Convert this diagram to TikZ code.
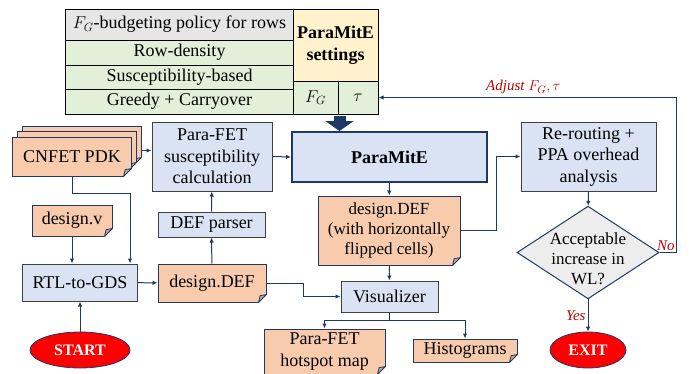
\documentclass[tikz,border=0pt]{standalone}
\usepackage{amsmath}
\usepackage{fontspec}
\setmainfont{Liberation Serif}
\usepackage{tikz}
\usetikzlibrary{calc,shapes.geometric,arrows.meta}

\definecolor{navy}{RGB}{32,56,100}
\definecolor{bluef}{RGB}{218,227,243}
\definecolor{orangef}{RGB}{248,203,173}
\definecolor{foldc}{RGB}{200,165,140}
\definecolor{greenf}{RGB}{226,240,217}
\definecolor{grayf}{RGB}{231,230,230}
\definecolor{grayd}{RGB}{237,237,237}
\definecolor{yellowf}{RGB}{255,242,204}
\definecolor{redt}{RGB}{192,0,0}
\definecolor{boxline}{RGB}{64,64,64}

\tikzset{
    box/.style={draw=boxline, fill=bluef, line width=1bp, align=center, inner sep=1bp, font=\fontsize{18bp}{21.5bp}\selectfont},
    doc/.style={box, draw=navy, fill=orangef},
    cell/.style={draw=black, fill=greenf, line width=1bp, inner sep=0pt, font=\fontsize{18bp}{21.5bp}\selectfont},
    flow/.style={draw=navy, line width=1bp, ->},
    lbl/.style={text=redt, inner sep=1bp, font=\itshape\fontsize{15bp}{18bp}\selectfont},
    term/.style={ellipse, draw=navy, line width=0.8bp, fill=red, text=white, inner sep=0pt, font=\bfseries\fontsize{16bp}{19bp}\selectfont}
}

\newcommand{\fold}[1]{%
    \fill[white] ($(#1.south east)+(-8.7,0.7)$) -- ($(#1.south east)+(0.7,0.7)$) -- ($(#1.south east)+(0.7,-8.7)$) -- cycle;
    \draw[navy, fill=foldc, line width=0.8bp, line join=round] ($(#1.south east)+(-8,0)$) -- ($(#1.south east)+(0,-8)$) -- ($(#1.south east)+(-6.4,-6.8)$) -- cycle;}

\begin{document}
\begin{tikzpicture}[x=1bp, y=-1bp, >={Latex[length=5bp,width=4.5bp]}]
    \useasboundingbox (0,0) rectangle (694,373);

    \node[cell, fill=grayf, minimum width=227bp, minimum height=31bp] (pol) at (179.5,24.5) {$F_G$-budgeting policy for rows};
    \node[cell, minimum width=227bp, minimum height=25bp] (rd) at (179.5,52.5) {Row-density};
    \node[cell, minimum width=227bp, minimum height=24bp] (sus) at (179.5,77) {Susceptibility-based};
    \node[cell, minimum width=227bp, minimum height=25bp] (gc) at (179.5,101.5) {Greedy + Carryover};
    \node[cell, fill=yellowf, align=center, minimum width=85bp, minimum height=72bp, font=\bfseries\fontsize{18bp}{21.5bp}\selectfont] (set) at (335.5,45) {ParaMitE\\settings};
    \node[cell, minimum width=45bp, minimum height=33bp] (fg) at (315.5,97.5) {$F_G$};
    \node[cell, minimum width=40bp, minimum height=33bp] (tau) at (358,97.5) {$\tau$};

    \node[doc, minimum width=118bp, minimum height=39bp] (pdkc) at (82,145.5) {};
    \fold{pdkc}
    \node[doc, minimum width=118bp, minimum height=39bp] (pdkb) at (77,150.5) {};
    \fold{pdkb}
    \node[doc, minimum width=118bp, minimum height=39bp] (pdk) at (72,156.5) {CNFET PDK};
    \fold{pdk}

    \node[box, minimum width=120bp, minimum height=69bp] (calc) at (212,156.5) {Para-FET\\susceptibility\\calculation};
    \node[box, draw=navy, line width=2bp, minimum width=195bp, minimum height=50bp, font=\bfseries\fontsize{18bp}{21.5bp}\selectfont] (pm) at (389.5,157) {ParaMitE};
    \node[box, minimum width=135bp, minimum height=69bp] (rr) at (588.5,156.5) {Re-routing +\\PPA overhead\\analysis};

    \node[doc, minimum width=80bp, minimum height=31bp] (dv) at (72,220.5) {design.v};
    \fold{dv}
    \node[box, minimum width=107bp, minimum height=25bp] (defp) at (211.5,224.5) {DEF parser};
    \node[doc, minimum width=142bp, minimum height=69bp, font=\fontsize{17bp}{20bp}\selectfont] (defr) at (389,230.5) {design.DEF\\(with horizontally\\flipped cells)};
    \fold{defr}
    \node[box, diamond, draw=navy, fill=grayd, inner xsep=-12bp, inner ysep=-12bp, text height=64bp, minimum width=142bp, minimum height=89bp, font=\fontsize{17bp}{20bp}\selectfont] (acc) at (588,252.5) {Acceptable\\increase in\\WL?};

    \node[box, minimum width=114bp, minimum height=37bp] (rtl) at (80,282.5) {RTL-to-GDS};
    \node[doc, minimum width=108bp, minimum height=38bp] (defl) at (212,283) {design.DEF};
    \fold{defl}
    \node[box, minimum width=97bp, minimum height=31bp] (vis) at (389.5,296.5) {Visualizer};

    \node[doc, minimum width=121bp, minimum height=45bp] (hot) at (324.5,351.5) {Para-FET\\hotspot map};
    \fold{hot}
    \node[doc, minimum width=104bp, minimum height=23bp] (hist) at (465,350.5) {Histograms};
    \fold{hist}

    \node[term, minimum width=100bp, minimum height=36bp] (start) at (80,350) {START};
    \node[term, minimum width=76bp, minimum height=36bp] (exit) at (588,350) {EXIT};

    \coordinate (bend) at (130,193);

    \draw[navy, line width=12bp, -{Triangle[length=10bp,width=28bp]}] ($(fg.south east)+(1,1)$) -- ($(fg.south east |- pm.north)+(1,0)$);
    \draw[flow] (pdkc.east |- pdkb.east) -- (calc.west |- pdkb.east);
    \draw[flow] (calc.east) -- (pm.west);
    \draw[flow] (defp) -- (calc);
    \draw[flow] (defl) -- (defp);
    \draw[flow] (pdk.south) |- (bend) -- (bend |- rtl.north);
    \draw[flow] (dv) -- (dv |- rtl.north);
    \draw[flow] (start) -- (rtl);
    \draw[flow] (rtl) -- (defl);
    \draw[flow] (defl.east) -- ++(37,0) |- (vis.west);
    \draw[flow] (pm) -- (defr);
    \draw[flow] (defr) -- (vis);
    \draw[flow] (vis.south) -- ++(0,8) -| (hot.north);
    \draw[flow] (vis.south) -- ++(0,8) -| (hist.north);
    \draw[flow] (defr.east) -- ++(36,0) |- (rr.west);
    \draw[flow] (rr) -- (acc);
    \draw[flow] (acc.south) -- (exit.north) node[lbl, midway, left=1bp] {Yes};
    \draw[flow] (acc.east) node[lbl, anchor=south west, xshift=-4bp] {No} -- ++(17,0) |- (tau.east) node[lbl, pos=0.757, above=2bp] {Adjust $F_G, \tau$};
\end{tikzpicture}
\end{document}
